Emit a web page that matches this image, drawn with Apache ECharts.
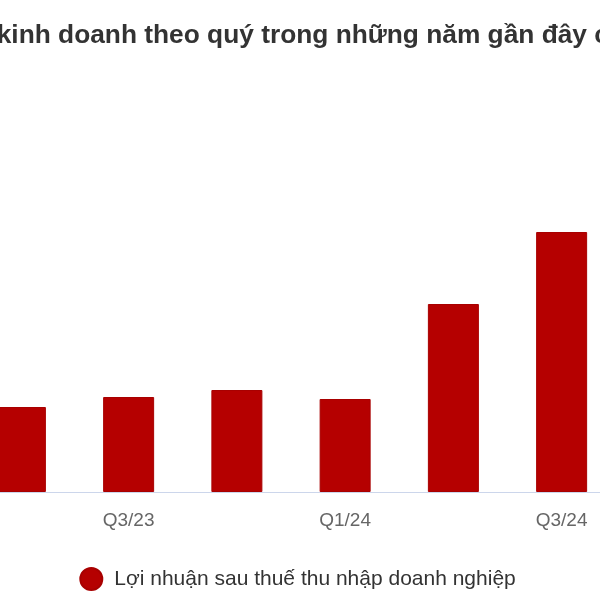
<!DOCTYPE html>
<html>
<head>
<meta charset="utf-8">
<script src="https://cdn.jsdelivr.net/npm/echarts@6/dist/echarts.min.js"></script>
<style>html,body{margin:0;padding:0;background:#fff;overflow:hidden;width:600px;height:600px;}#c{position:absolute;left:-141.8px;top:0;width:866.4px;height:600px;}</style>
</head>
<body>
<div id="c"></div>
<script>
var titleText = 'Kết quả kinh doanh theo quý trong những năm gần đây của';
var categories = ['Q1/23', 'Q2/23', 'Q3/23', 'Q4/23', 'Q1/24', 'Q2/24', 'Q3/24', 'Q4/24'];
var seriesName = 'Lợi nhuận sau thuế thu nhập doanh nghiệp';
var profit = [80, 85, 95, 102, 93, 188, 260, 280];

var chart = echarts.init(document.getElementById('c'), null, {renderer: 'canvas'});
chart.setOption({
  animation: false,
  backgroundColor: '#ffffff',
  title: {
    text: titleText,
    left: 30,
    top: 18,
    textStyle: {fontFamily: 'Liberation Sans, Arial, sans-serif', fontSize: 26.3, fontWeight: 'bold', color: '#333333'}
  },
  legend: {
    data: [seriesName],
    left: 441.8 - 225.5,
    top: 562,
    icon: 'circle',
    itemWidth: 22,
    itemHeight: 22,
    itemGap: 10,
    textStyle: {fontFamily: 'Liberation Sans, Arial, sans-serif', fontSize: 21, color: '#333333', padding: [0, 0, 0, 7]}
  },
  grid: {left: 0, right: 0, top: 192, bottom: 108, containLabel: false},
  xAxis: {
    type: 'category',
    data: categories,
    axisLine: {lineStyle: {color: '#ccd6eb', width: 1}},
    axisTick: {show: false},
    axisLabel: {interval: 1, fontFamily: 'Liberation Sans, Arial, sans-serif', fontSize: 19, color: '#666666', margin: 19}
  },
  yAxis: {
    type: 'value',
    min: 0,
    max: 300,
    show: false,
    splitLine: {show: false}
  },
  series: [{
    name: seriesName,
    type: 'bar',
    data: profit,
    barWidth: 51,
    itemStyle: {color: '#b50000', borderColor: '#a80000', borderWidth: 1}
  }]
});
</script>
</body>
</html>
